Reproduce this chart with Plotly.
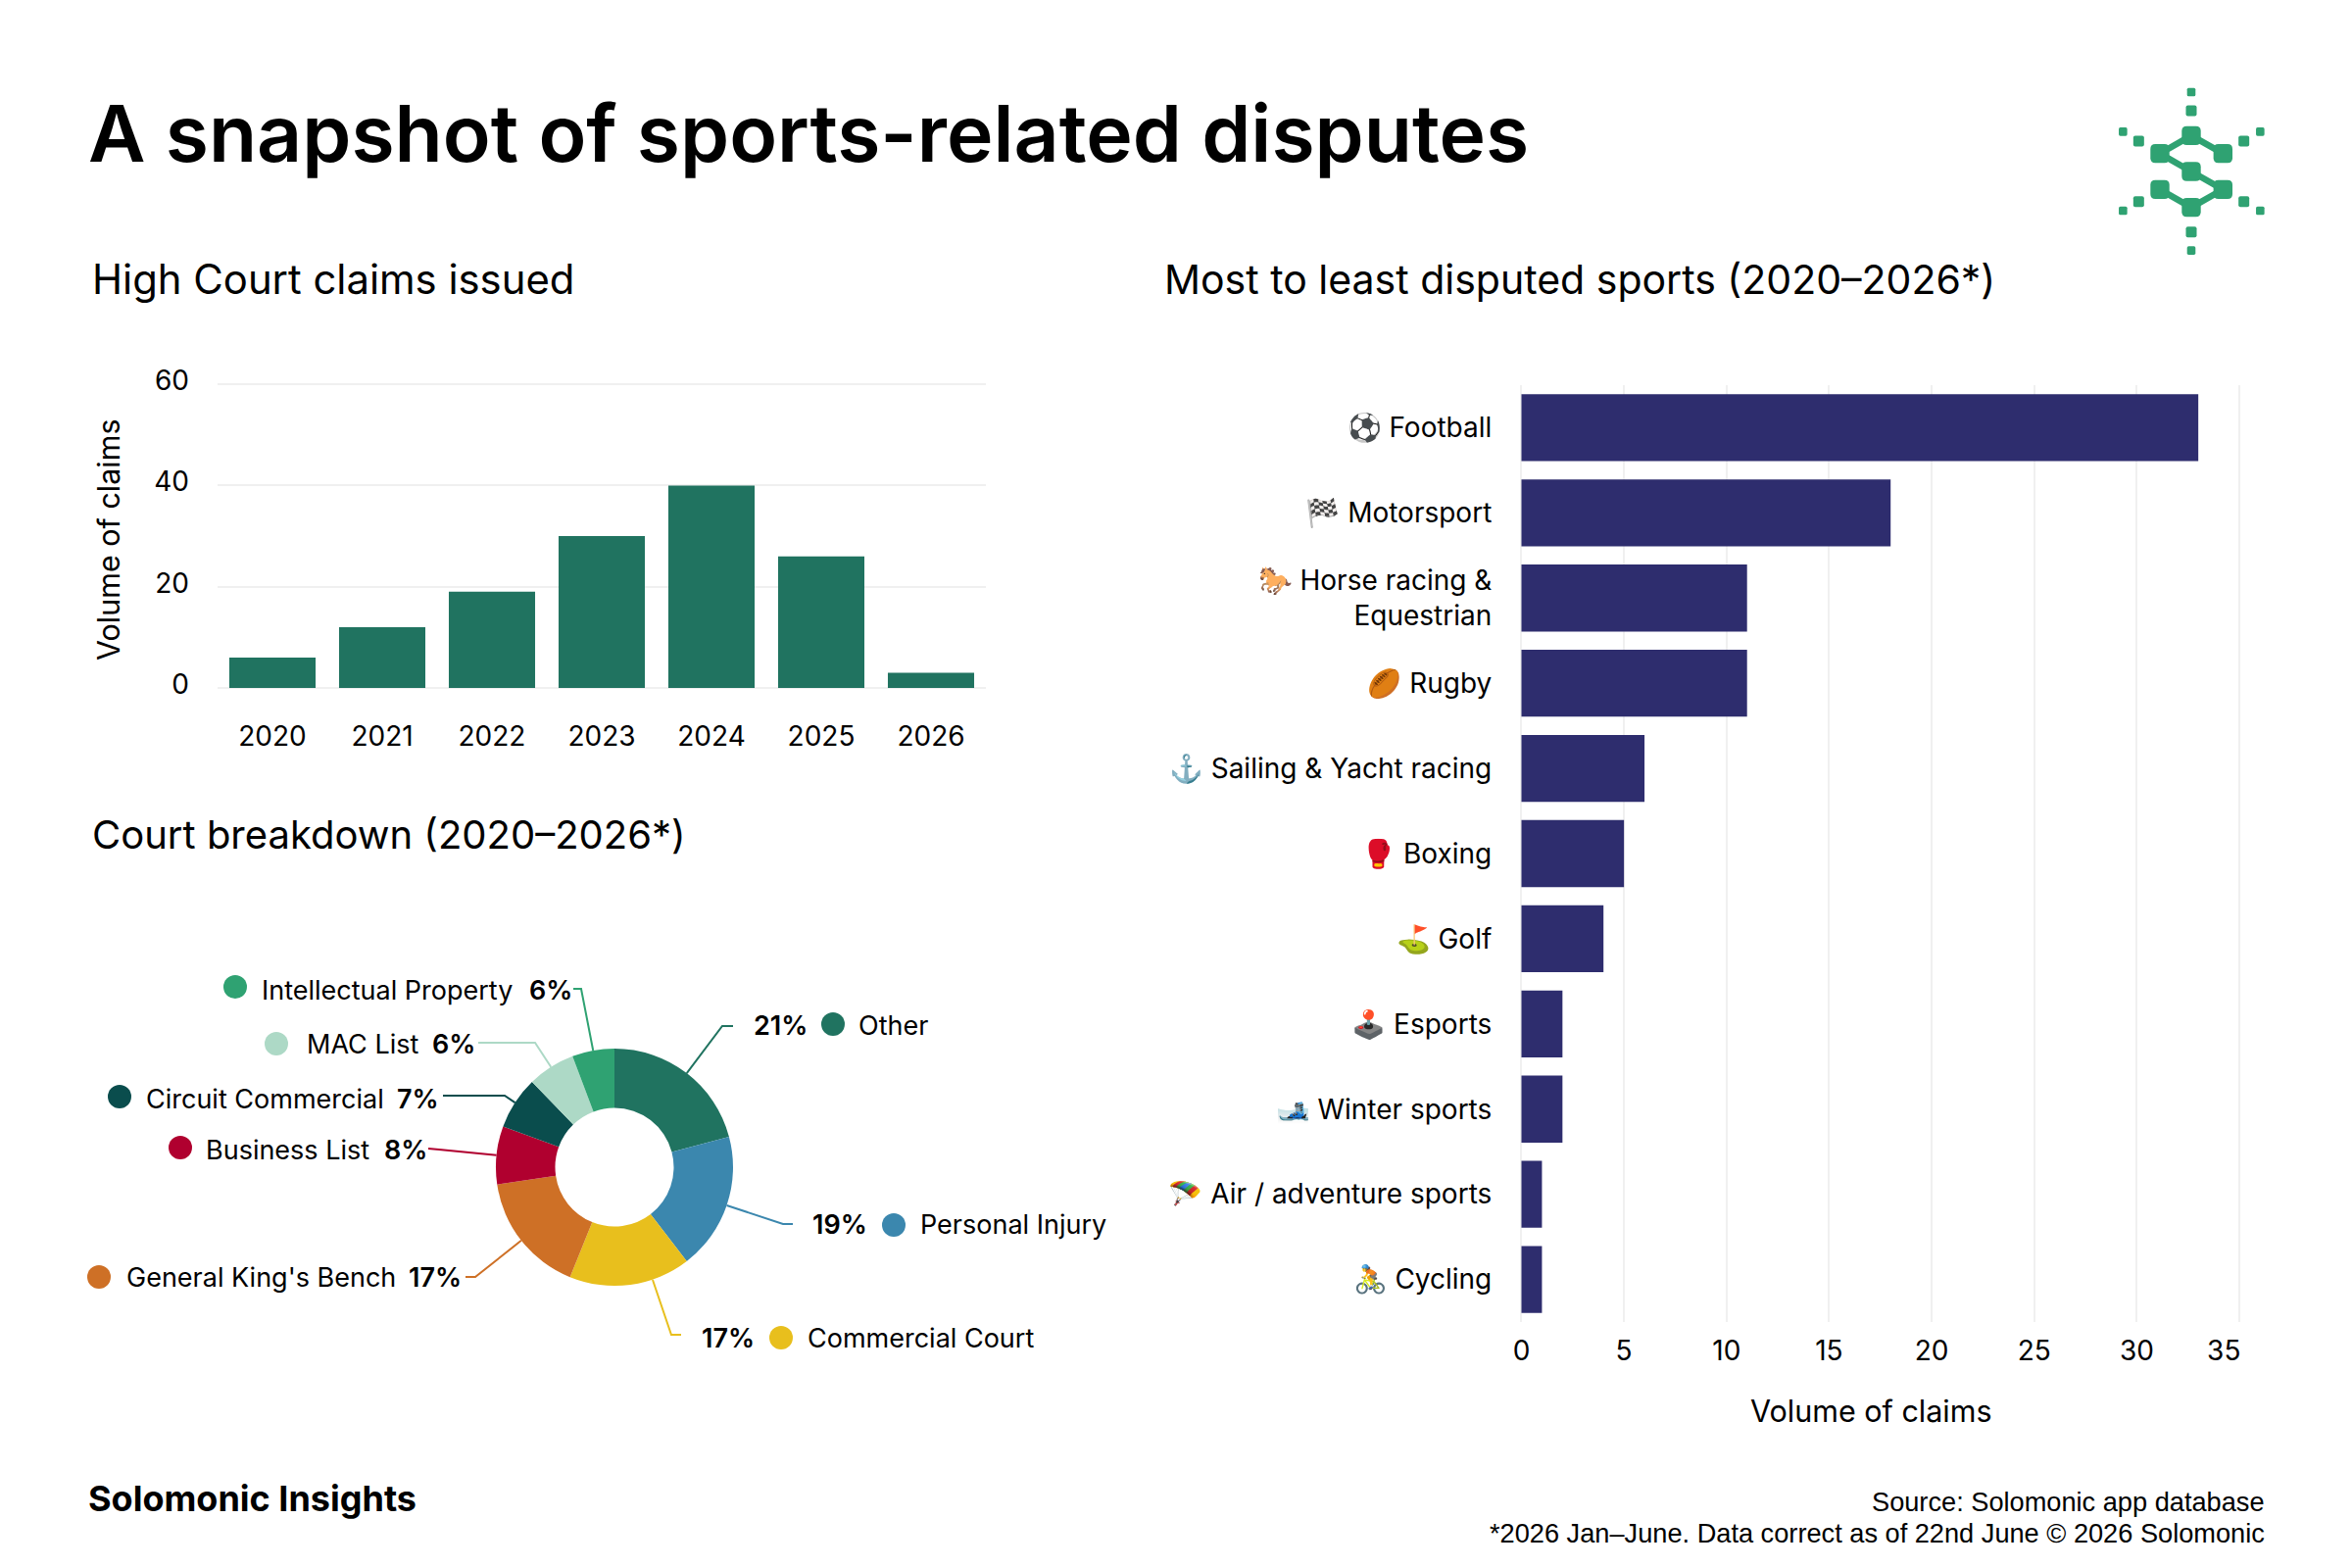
import math
import plotly.graph_objects as go

# the browser keeps its 8px body margin, so the figure is a bit smaller than the window
W = 2384
H = 1584
OFFSET = 8

years = ["2020", "2021", "2022", "2023", "2024", "2025", "2026"]
claims_per_year = [6, 12, 19, 30, 40, 26, 3]

sports = [
    "⚽ Football", "🏁 Motorsport", "🐎 Horse racing &<br>Equestrian", "🏉 Rugby",
    "⚓ Sailing & Yacht racing", "🥊 Boxing", "⛳ Golf", "🕹️ Esports",
    "🎿 Winter sports", "🪂 Air / adventure sports", "🚴 Cycling",
]
claims_per_sport = [33, 18, 11, 11, 6, 5, 4, 2, 2, 1, 1]

courts = ["Other", "Personal Injury", "Commercial Court", "General King's Bench",
          "Business List", "Circuit Commercial", "MAC List", "Intellectual Property"]
court_claims = [29, 26, 23, 23, 11, 10, 9, 8]
court_pct = ["21%", "19%", "17%", "17%", "8%", "7%", "6%", "6%"]
court_colors = ["#207360", "#3B87AE", "#E8BF1D", "#CE7026", "#B0002F", "#0A4D4D", "#ADD9C6", "#2FA272"]

GEO = "Inter"
BODY = "Inter"
GRID = "#F0F0F0"
LOGO = "#2FA272"

# donut position, pixels
PIE_X, PIE_Y, PIE_R = 627, 1191, 121

# per slice: dot x/y, name left, pct edge, text y, elbow, line end
court_layout = {
    "Other": dict(dot=(850, 1045), name=875, pct=768, side="left", y=1046, elbow=(737, 1047), end=(748, 1047)),
    "Personal Injury": dict(dot=(912, 1250), name=938, pct=828, side="left", y=1249, elbow=(799, 1249), end=(809, 1249)),
    "Commercial Court": dict(dot=(797, 1365), name=823, pct=715, side="left", y=1365, elbow=(685, 1362), end=(695, 1362), start=(666, 1306)),
    "General King's Bench": dict(dot=(101, 1303), name=128, pct=472, side="right", y=1303, elbow=(485, 1303), end=(475, 1303)),
    "Business List": dict(dot=(184, 1171), name=209, pct=437, side="right", y=1173, elbow=(448, 1173), end=(437, 1172)),
    "Circuit Commercial": dict(dot=(122, 1119), name=148, pct=449, side="right", y=1121, elbow=(515, 1118), end=(452, 1118)),
    "MAC List": dict(dot=(282, 1065), name=312, pct=486, side="right", y=1065, elbow=(546, 1064), end=(488, 1064)),
    "Intellectual Property": dict(dot=(240, 1007), name=266, pct=585, side="right", y=1010, elbow=(593, 1009), end=(585, 1009)),
}


def fx(px):
    return (px - OFFSET) / W


def fy(px):
    return 1 - (px - OFFSET) / H


def label(text, x, y, size, anchor="left", family=BODY, weight=400, color="#000000", angle=0):
    return dict(text=text, x=fx(x), y=fy(y), xref="paper", yref="paper", xanchor=anchor, yanchor="middle", textangle=angle,
                showarrow=False, borderpad=0, font=dict(family=family, size=size, weight=weight, color=color))


fig = go.Figure()

fig.add_trace(go.Bar(x=years, y=claims_per_year, marker=dict(color="#207360", line_width=0),
                     xaxis="x", yaxis="y", showlegend=False))
fig.add_trace(go.Bar(x=claims_per_sport, y=sports, orientation="h", marker=dict(color="#2E2D6E", line_width=0),
                     xaxis="x2", yaxis="y2", showlegend=False))
fig.add_trace(go.Pie(labels=courts, values=court_claims, hole=0.5, sort=False, direction="clockwise", rotation=0,
                     marker=dict(colors=court_colors, line_width=0), textinfo="none", showlegend=False,
                     domain=dict(x=[fx(PIE_X - PIE_R), fx(PIE_X + PIE_R)], y=[fy(PIE_Y + PIE_R), fy(PIE_Y - PIE_R)])))

annotations = [
    label("A snapshot of sports-related disputes", 89, 136, 80.4, family=GEO, weight=600),
    label("High Court claims issued", 93, 285, 41.8, family=GEO),
    label("Most to least disputed sports (2020–2026*)", 1187, 285, 41, family=GEO),
    label("Court breakdown (2020–2026*)", 93, 851, 40, family=GEO),
    label("Solomonic Insights", 89, 1529, 36, family=GEO, weight=700),
    label("Source: Solomonic app database", 2312, 1532, 27.2, anchor="right", family="Liberation Sans"),
    label("*2026 Jan–June. Data correct as of 22nd June © 2026 Solomonic", 2312, 1564, 27.2, anchor="right", family="Liberation Sans"),
    label("Volume of claims", 110, 551, 30.5, anchor="center", family=GEO, angle=-90),
    label("Volume of claims", 1910, 1439, 30.5, anchor="center", family=GEO),
]

shapes = []
total = sum(court_claims)
running = 0
for name, value, pct, color in zip(courts, court_claims, court_pct, court_colors):
    pos = court_layout[name]
    mid = (running + value / 2) / total * 2 * math.pi
    running += value
    sx, sy = pos.get("start", (PIE_X + PIE_R * math.sin(mid), PIE_Y - PIE_R * math.cos(mid)))
    path = "M{},{} L{},{} L{},{}".format(fx(sx), fy(sy), fx(pos["elbow"][0]), fy(pos["elbow"][1]), fx(pos["end"][0]), fy(pos["end"][1]))
    shapes.append(dict(type="path", path=path, xref="paper", yref="paper", line=dict(color=color, width=2)))
    dx, dy = pos["dot"]
    shapes.append(dict(type="circle", xref="paper", yref="paper", x0=fx(dx - 12), x1=fx(dx + 12), y0=fy(dy + 12), y1=fy(dy - 12),
                       fillcolor=color, line_width=0))
    annotations.append(label(name, pos["name"], pos["y"], 27))
    annotations.append(label(pct, pos["pct"], pos["y"], 27, anchor=pos["side"], weight=600))

# logo, from rounded squares and the S stroke
logo_nodes = [(558, 235), (462, 290), (655, 290), (558, 345), (462, 400), (655, 400), (558, 455)]
logo_mid = [(558, 159), (558, 530), (397, 252), (719, 252), (397, 437), (719, 437)]
logo_small = [(558, 102), (558, 587), (349, 223), (769, 223), (349, 465), (769, 465)]
logo_stroke = [(655, 290), (558, 235), (462, 290), (558, 345), (655, 400), (558, 455), (462, 400)]


def logo_px(p):
    return 2050 + p[0] / 3, 60 + p[1] / 3


def rounded(cx, cy, half, r):
    x0, x1 = cx - half, cx + half
    y0, y1 = cy - half, cy + half
    return ("M{},{} L{},{} Q{},{} {},{} L{},{} Q{},{} {},{} L{},{} Q{},{} {},{} L{},{} Q{},{} {},{} Z".format(
        fx(x0 + r), fy(y0), fx(x1 - r), fy(y0), fx(x1), fy(y0), fx(x1), fy(y0 + r),
        fx(x1), fy(y1 - r), fx(x1), fy(y1), fx(x1 - r), fy(y1),
        fx(x0 + r), fy(y1), fx(x0), fy(y1), fx(x0), fy(y1 - r),
        fx(x0), fy(y0 + r), fx(x0), fy(y0), fx(x0 + r), fy(y0)))


stroke_pts = [logo_px(p) for p in logo_stroke]
shapes.append(dict(type="path", xref="paper", yref="paper", line=dict(color=LOGO, width=6.5),
                   path="M" + " L".join("{},{}".format(fx(a), fy(b)) for a, b in stroke_pts)))
for group, half, r in [(logo_nodes, 9.7, 5), (logo_mid, 5.5, 2), (logo_small, 4.3, 1.6)]:
    for p in group:
        cx, cy = logo_px(p)
        shapes.append(dict(type="path", xref="paper", yref="paper", path=rounded(cx, cy, half, r),
                           fillcolor=LOGO, line_width=0))

tick_font = dict(family=BODY, size=28, color="#000000")

# ranges run a little past the end ticks, otherwise plotly drops the end gridlines
fig.update_layout(
    width=W,
    height=H,
    margin=dict(l=0, r=0, t=0, b=0, autoexpand=False),
    autosize=False,
    paper_bgcolor="#FFFFFF",
    plot_bgcolor="#FFFFFF",
    bargap=0.214,
    annotations=annotations,
    shapes=shapes,
    xaxis=dict(domain=[fx(222), fx(1006)], anchor="y", showgrid=False, showline=False, zeroline=False, ticks="",
               tickfont=tick_font, ticklabelstandoff=27),
    yaxis=dict(domain=[fy(704.6), fy(389.5)], anchor="x", range=[-0.5, 60.5], tickvals=[0, 20, 40, 60], gridcolor=GRID, gridwidth=2,
               zeroline=False, showline=False, ticks="", tickfont=tick_font, ticklabelstandoff=28, ticklabelshift=-4),
    xaxis2=dict(domain=[fx(1548.3), fx(2289.2)], anchor="y2", range=[-0.2, 35.2], tickvals=[0, 5, 10, 15, 20, 25, 30, 35],
                ticktext=["0", "5", "10", "15", "20", "25", "30", "35\u00a0\u00a0\u00a0\u00a0"],
                gridcolor=GRID, gridwidth=2, zeroline=False, showline=False, ticks="", tickfont=tick_font, ticklabelstandoff=10),
    yaxis2=dict(domain=[fy(1349), fy(393)], anchor="x2", autorange="reversed", showgrid=False, zeroline=False, showline=False,
                ticks="", tickfont=tick_font, ticklabelstandoff=25),
)

fig.write_html("out.html")
